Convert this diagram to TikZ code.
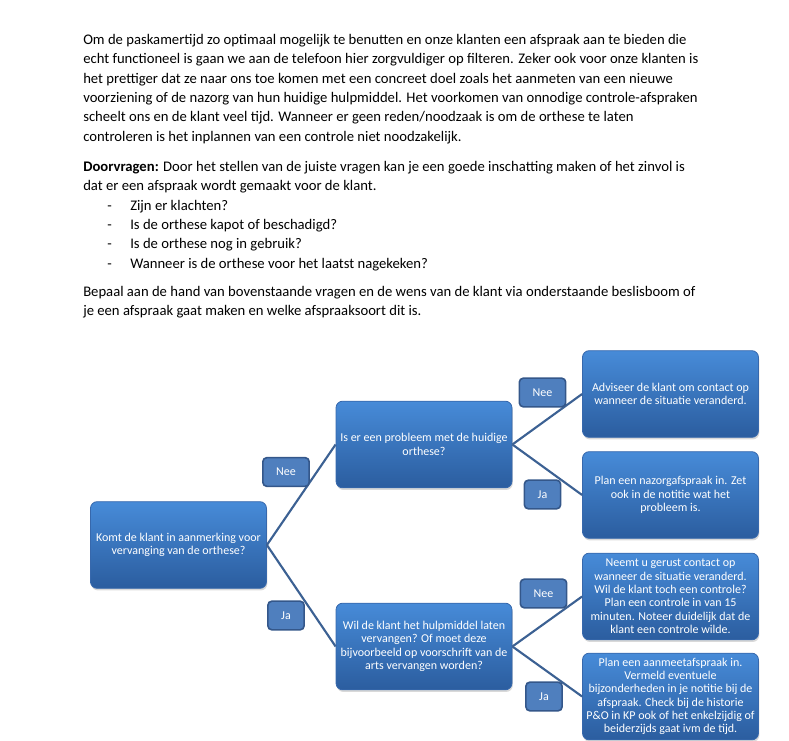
\documentclass[tikz,border=0pt]{standalone}
\usepackage{fontspec}
\setmainfont{Carlito}
\usepackage{xcolor}
\usetikzlibrary{shadows}
\definecolor{blokboven}{HTML}{478BD8}
\definecolor{blokonder}{HTML}{2B5D9F}
\definecolor{bloklijn}{HTML}{3768AC}
\definecolor{keuzevul}{HTML}{4F7FBE}
\definecolor{keuzelijn}{HTML}{34578A}
\definecolor{taklijn}{HTML}{3C6193}
\newcommand{\streep}[1]{\hspace*{18pt}\makebox[17.25pt][l]{-}#1}

\begin{document}
\begin{tikzpicture}[
    x=0.75pt, y=-0.75pt,
    blok/.style={draw=bloklijn, line width=0.6pt, rounded corners=5pt, top color=blokboven, bottom color=blokonder, text=white, align=center, font=\fontsize{9}{10}\selectfont, minimum width=132pt, minimum height=65pt, inner sep=2pt, drop shadow={opacity=0.3, shadow xshift=0.6pt, shadow yshift=-1.6pt}},
    keuze/.style={draw=keuzelijn, line width=1.2pt, rounded corners=3pt, fill=keuzevul, text=white, font=\fontsize{9}{10}\selectfont, inner xsep=10pt, minimum height=21.5pt},
    tak/.style={draw=taklijn, line width=1.6pt},
    tekst/.style={anchor=north west, inner sep=0pt, align=left, font=\fontsize{11}{14.5}\selectfont}
]
\useasboundingbox (0,0) rectangle (789,741);
% tekst boven de beslisboom
\node[tekst] (intro) at (83,34) {Om de paskamertijd zo optimaal mogelijk te benutten en onze klanten een afspraak aan te bieden die\\
echt functioneel is gaan we aan de telefoon hier zorgvuldiger op filteren. Zeker ook voor onze klanten is\\
het prettiger dat ze naar ons toe komen met een concreet doel zoals het aanmeten van een nieuwe\\
voorziening of de nazorg van hun huidige hulpmiddel. Het voorkomen van onnodige controle-afspraken\\
scheelt ons en de klant veel tijd. Wanneer er geen reden/noodzaak is om de orthese te laten\\
controleren is het inplannen van een controle niet noodzakelijk.};
\node[tekst] (doorvragen) at (83,161) {\textbf{Doorvragen:} Door het stellen van de juiste vragen kan je een goede inschatting maken of het zinvol is\\
dat er een afspraak wordt gemaakt voor de klant.\\
\streep{Zijn er klachten?}\\
\streep{Is de orthese kapot of beschadigd?}\\
\streep{Is de orthese nog in gebruik?}\\
\streep{Wanneer is de orthese voor het laatst nagekeken?}};
\node[tekst] (bepaal) at (83,286) {Bepaal aan de hand van bovenstaande vragen en de wens van de klant via onderstaande beslisboom of\\
je een afspraak gaat maken en welke afspraaksoort dit is.};
% beslisboom
\node[blok] (komt) at (178.5,545) {Komt de klant in aanmerking voor\\vervanging van de orthese?};
\node[blok] (probleem) at (424,444.5) {Is er een probleem met de huidige\\orthese?};
\node[blok] (vervangen) at (424,646.5) {Wil de klant het hulpmiddel laten\\vervangen? Of moet deze\\bijvoorbeeld op voorschrift van de\\arts vervangen worden?};
\node[blok] (adviseer) at (670.5,394) {Adviseer de klant om contact op\\wanneer de situatie veranderd.};
\node[blok] (nazorg) at (670.5,495) {Plan een nazorgafspraak in. Zet\\ook in de notitie wat het\\probleem is.};
\node[blok] (contact) at (670.5,596.5) {Neemt u gerust contact op\\wanneer de situatie veranderd.\\Wil de klant toch een controle?\\Plan een controle in van 15\\minuten. Noteer duidelijk dat de\\klant een controle wilde.};
\node[blok] (aanmeet) at (670.5,696.5) {Plan een aanmeetafspraak in.\\Vermeld eventuele\\bijzonderheden in je notitie bij de\\afspraak. Check bij de historie\\P\&O in KP ook of het enkelzijdig of\\beiderzijds gaat ivm de tijd.};
\draw[tak] (komt.east) -- (probleem.west);
\draw[tak] (komt.east) -- (vervangen.west);
\draw[tak] (probleem.east) -- (adviseer.west);
\draw[tak] (probleem.east) -- (nazorg.west);
\draw[tak] (vervangen.east) -- (contact.west);
\draw[tak] (vervangen.east) -- (aanmeet.west);
\node[keuze] (nee1) at (286,472) {Nee};
\node[keuze] (ja1) at (286,615.5) {Ja};
\node[keuze] (nee2) at (542.5,392.5) {Nee};
\node[keuze] (ja2) at (542.5,494.5) {Ja};
\node[keuze] (nee3) at (543.5,593.5) {Nee};
\node[keuze] (ja3) at (544,696.5) {Ja};
\end{tikzpicture}
\end{document}
